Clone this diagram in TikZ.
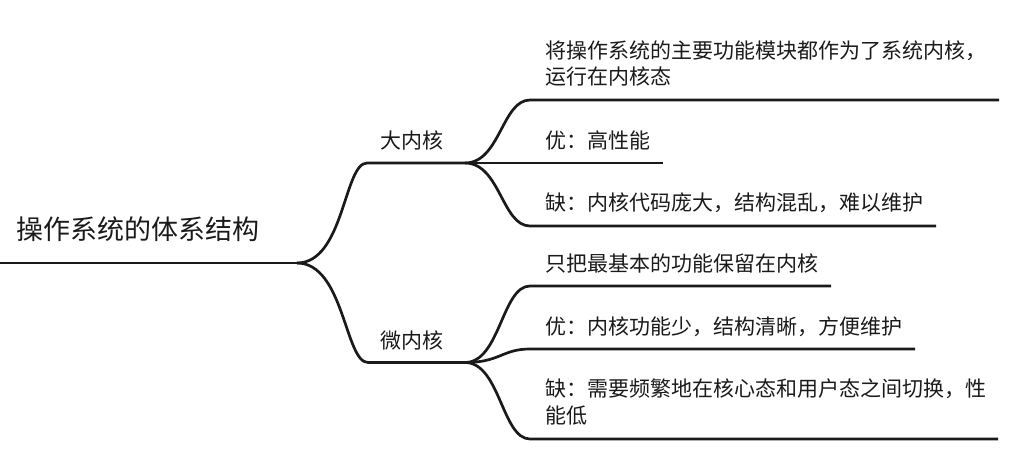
\documentclass[tikz,border=0pt]{standalone}
\usepackage{fontspec}
\newfontfamily\cjk{Noto Sans CJK SC}
\definecolor{ink}{HTML}{1A1A1A}
\begin{document}
\begin{tikzpicture}[x=1pt,y=-1pt,
  edge/.style={draw=ink,line width=2.7pt},
  lbl/.style={font=\cjk\fontsize{21}{26.5}\selectfont,text=ink,inner sep=0pt,anchor=base west,align=left},
  rootlbl/.style={font=\cjk\fontsize{27}{32}\selectfont,text=ink,inner sep=0pt,anchor=base west},
  bend1/.style={out=0,in=180,out distance=47pt,in distance=23pt},
  bend2/.style={out=0,in=180,out distance=35pt,in distance=28pt}]
\useasboundingbox (0,0) rectangle (1019,455);
% coordinates
\coordinate (root-s) at (0,263);
\coordinate (root-e) at (297,263);
\coordinate (big-s) at (367,163);
\coordinate (big-e) at (465,163);
\coordinate (mic-s) at (368,362.5);
\coordinate (mic-e) at (465,362.5);
\coordinate (b1-s) at (530,100);
\coordinate (b1-e) at (999,100);
\coordinate (b2-e) at (663,163);
\coordinate (b3-s) at (530,226);
\coordinate (b3-e) at (936,226);
\coordinate (m1-s) at (530,286);
\coordinate (m1-e) at (831,286);
\coordinate (m2-s) at (530,349);
\coordinate (m2-e) at (915,349);
\coordinate (m3-s) at (530,439);
\coordinate (m3-e) at (998,439);
% labels (base anchor of a two-line label is on its last line)
\node[rootlbl] (root) at (16,239.5) {操作系统的体系结构};
\node[lbl] (big) at (380,148.7) {大内核};
\node[lbl] (mic) at (380,348.7) {微内核};
\node[lbl] (b1) at (545,84.7) {将操作系统的主要功能模块都作为了系统内核，\\运行在内核态};
\node[lbl] (b2) at (545,148) {优：高性能};
\node[lbl] (b3) at (545,210.7) {缺：内核代码庞大，结构混乱，难以维护};
\node[lbl] (m1) at (545,271.3) {只把最基本的功能保留在内核};
\node[lbl] (m2) at (545,334) {优：内核功能少，结构清晰，方便维护};
\node[lbl] (m3) at (545,423) {缺：需要频繁地在核心态和用户态之间切换，性\\能低};
% connectors
\draw[edge] (root-s) -- (root-e);
\draw[edge] (root-e) to[bend1] (big-s) -- (big-e);
\draw[edge] (root-e) to[bend1] (mic-s) -- (mic-e);
\draw[edge] (big-e) to[bend2] (b1-s) -- (b1-e);
\draw[edge] (big-e) -- (b2-e);
\draw[edge] (big-e) to[bend2] (b3-s) -- (b3-e);
\draw[edge] (mic-e) to[bend2] (m1-s) -- (m1-e);
\draw[edge] (mic-e) to[bend2] (m2-s) -- (m2-e);
\draw[edge] (mic-e) to[bend2] (m3-s) -- (m3-e);
\end{tikzpicture}
\end{document}
